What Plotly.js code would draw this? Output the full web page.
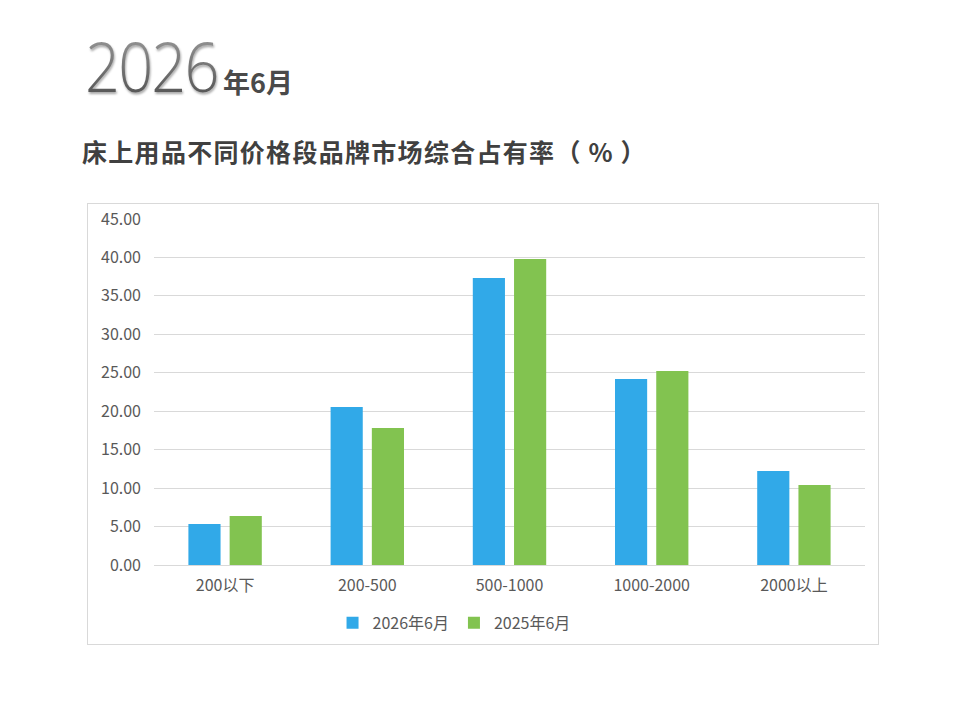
<!DOCTYPE html>
<html>
<head>
<meta charset="utf-8">
<script src="https://cdn.plot.ly/plotly-3.0.1.min.js"></script>
<style>
  html, body { margin: 0; padding: 0; background: #ffffff; }
  body { width: 960px; height: 720px; position: relative; overflow: hidden;
         font-family: "Noto Sans CJK SC", "Noto Sans", sans-serif; }
  .year {
    position: absolute; left: 85px; top: 26px;
    font-family: "Open Sans", "Noto Sans", sans-serif; font-weight: 300;
    font-size: 68px; line-height: 80px; letter-spacing: -2px;
    transform: scaleX(0.9); transform-origin: left top;
    background: linear-gradient(#a0a0a0, #4a4a4a);
    -webkit-background-clip: text; background-clip: text; color: transparent;
    filter: drop-shadow(1px 2px 1px rgba(0,0,0,0.35));
  }
  .month {
    position: absolute; left: 223px; top: 64px;
    font-size: 27px; font-weight: 700; color: #4a4a4a; line-height: 36px;
  }
  .subtitle {
    position: absolute; left: 82px; top: 132px;
    font-size: 25px; font-weight: 700; color: #404040; line-height: 38px;
    letter-spacing: 1.3px;
  }
  .subtitle .p { letter-spacing: 8px; }
  #chart {
    position: absolute; left: 87px; top: 203px; width: 790px; height: 440px;
    border: 1px solid #d9d9d9;
  }
</style>
</head>
<body>
<div class="year">2026</div>
<div class="month">年6月</div>
<div class="subtitle">床上用品不同价格段品牌市场综合占有率<span class="p">（%）</span></div>
<div id="chart"></div>
<script>
// price bands and market share (%) per period
const categories = ["200以下", "200-500", "500-1000", "1000-2000", "2000以上"];
const share2026 = [5.33, 20.55, 37.32, 24.19, 12.22];
const share2025 = [6.37, 17.81, 39.79, 25.23, 10.40];
const seriesNames = ["2026年6月", "2025年6月"];
const yTicks = [0, 5, 10, 15, 20, 25, 30, 35, 40, 45];

const BLUE = "#31a9e8";
const GREEN = "#82c350";

const data = [
  { type: "bar", name: seriesNames[0], x: categories, y: share2026,
    marker: { color: BLUE, line: { width: 0 } } },
  { type: "bar", name: seriesNames[1], x: categories, y: share2025,
    marker: { color: GREEN, line: { width: 0 } } },
];

const layout = {
  width: 790, height: 440,
  paper_bgcolor: "#ffffff",
  plot_bgcolor: "#ffffff",
  font: { family: "Noto Sans CJK SC, Noto Sans, sans-serif", color: "#595959", size: 16 },
  margin: { l: 66, r: 13, t: 15, b: 79, autoexpand: false },
  barmode: "group",
  bargap: 0.42,
  bargroupgap: 0.22,
  showlegend: true,
  legend: {
    orientation: "h", x: 0.422, xanchor: "center",
    yref: "container", y: 0.048, yanchor: "middle",
    font: { size: 16, color: "#595959" }, itemwidth: 30, traceorder: "normal",
  },
  xaxis: {
    type: "category", automargin: false,
    showgrid: false, zeroline: false,
    showline: true, linecolor: "#d9d9d9", linewidth: 1,
    ticks: "", tickfont: { size: 16, color: "#595959" },
    ticklabelstandoff: 6,
  },
  yaxis: {
    range: [0, 45], tickvals: yTicks, tickformat: ".2f", automargin: false,
    showgrid: true, gridcolor: "#d9d9d9", gridwidth: 1,
    zeroline: false, showline: false, ticks: "",
    tickfont: { size: 16, color: "#595959" },
    ticklabelstandoff: 12,
  },
};

Plotly.newPlot("chart", data, layout, { displayModeBar: false, staticPlot: true });
</script>
</body>
</html>
